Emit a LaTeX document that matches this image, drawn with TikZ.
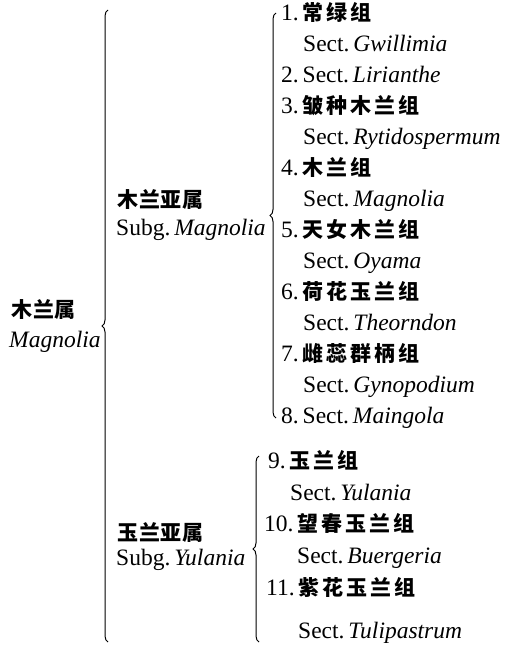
\documentclass[tikz,border=0pt]{standalone}
\usepackage{fontspec}
\setmainfont{Liberation Serif}
\newfontfamily\cjksec{Noto Sans CJK SC}[LetterSpace=14]
\newfontfamily\cjksub{Noto Sans CJK SC}[LetterSpace=4]
\usetikzlibrary{decorations.pathreplacing}
\newcommand{\zh}[1]{{\cjksec\bfseries\fontsize{21}{24}\selectfont #1}}
\newcommand{\zhs}[1]{{\cjksub\bfseries\fontsize{21}{24}\selectfont #1}}
\tikzset{
  lbl/.style={anchor=west, inner sep=0pt, font=\fontsize{23.5}{26}\selectfont, text height=15pt, text depth=5pt},
  bracel/.style={draw, line width=1pt, decorate, decoration={brace, amplitude=6pt, aspect=0.5}}
}
\begin{document}
\begin{tikzpicture}[x=1pt, y=-1pt]
\useasboundingbox (0,0) rectangle (510,645);
% genus
\node[lbl] (g1) at (11,312) {\zhs{木兰属}};
\node[lbl] (g2) at (9,342) {\textit{Magnolia}};
% big brace
\coordinate (b1bot) at (108,642);
\coordinate (b1top) at (108,10);
\draw[bracel] (b1bot) -- (b1top);
% subgenera
\node[lbl] (s1a) at (117,202) {\zhs{木兰亚属}};
\node[lbl] (s1b) at (116,230) {Subg.\,\textit{Magnolia}};
\node[lbl] (s2a) at (117,535) {\zhs{玉兰亚属}};
\node[lbl] (s2b) at (116,560) {Subg.\,\textit{Yulania}};
% brace 2
\coordinate (b2bot) at (276,418);
\coordinate (b2top) at (276,13);
\draw[bracel] (b2bot) -- (b2top);
% brace 3
\coordinate (b3bot) at (259,642);
\coordinate (b3top) at (259,456);
\draw[bracel] (b3bot) -- (b3top);
% sections of Subg. Magnolia
\node[lbl] (r1)  at (281,15)  {1.\,\zh{常绿组}};
\node[lbl] (r2)  at (303,46)  {Sect.\,\textit{Gwillimia}};
\node[lbl] (r3)  at (281,77)  {2.\,Sect.\,\textit{Lirianthe}};
\node[lbl] (r4)  at (281,108) {3.\,\zh{皱种木兰组}};
\node[lbl] (r5)  at (303,139) {Sect.\,\textit{Rytidospermum}};
\node[lbl] (r6)  at (281,170) {4.\,\zh{木兰组}};
\node[lbl] (r7)  at (303,201) {Sect.\,\textit{Magnolia}};
\node[lbl] (r8)  at (281,232) {5.\,\zh{天女木兰组}};
\node[lbl] (r9)  at (303,263) {Sect.\,\textit{Oyama}};
\node[lbl] (r10) at (281,294) {6.\,\zh{荷花玉兰组}};
\node[lbl] (r11) at (303,325) {Sect.\,\textit{Theorndon}};
\node[lbl] (r12) at (281,356) {7.\,\zh{雌蕊群柄组}};
\node[lbl] (r13) at (303,387) {Sect.\,\textit{Gynopodium}};
\node[lbl] (r14) at (281,418) {8.\,Sect.\,\textit{Maingola}};
% sections of Subg. Yulania
\node[lbl] (q1) at (268,463) {9.\,\zh{玉兰组}};
\node[lbl] (q2) at (290,495) {Sect.\,\textit{Yulania}};
\node[lbl] (q3) at (264,526) {10.\,\zh{望春玉兰组}};
\node[lbl] (q4) at (297,558) {Sect.\,\textit{Buergeria}};
\node[lbl] (q5) at (266,590) {11.\,\zh{紫花玉兰组}};
\node[lbl] (q6) at (298,633) {Sect.\,\textit{Tulipastrum}};
\end{tikzpicture}
\end{document}
